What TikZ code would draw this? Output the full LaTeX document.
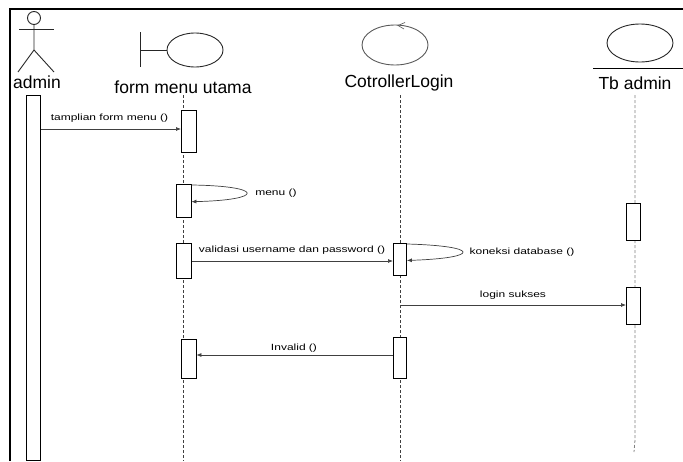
\documentclass[tikz,border=0pt]{standalone}
\usepackage{fontspec}
\setmainfont{Liberation Sans}
\usetikzlibrary{arrows.meta,calc,shapes.geometric}
\newcommand\lbltxt[1]{\scalebox{1}[0.75]{#1}}
\begin{document}
\begin{tikzpicture}[x=1pt,y=-1pt,
  title/.style={font=\fontsize{17.5}{18}\selectfont, inner sep=0pt},
  lbl/.style={font=\fontsize{12}{12}\selectfont, inner sep=0pt, text=black},
  act/.style={draw, fill=white, line width=0.9pt, inner sep=0pt, anchor=north west},
  life/.style={draw=black!75, line width=0.8pt, dash pattern=on 3pt off 2pt},
  msg/.style={-{Latex[length=5pt,width=4pt]}, line width=0.7pt, draw=black!75},
  shp/.style={draw=black!85, line width=0.9pt}]
\useasboundingbox (0,0) rectangle (683,461);
% frame
\draw[line width=1.4pt] (10,461) -- (10,9) -- (683,9);
% actor
\node[shp, circle, minimum size=13pt, inner sep=0pt] (head) at (34,18) {};
\coordinate (hip) at (34,50);
\coordinate (lhand) at (19,29);
\coordinate (rhand) at (54,29);
\coordinate (lfoot) at (18,72);
\coordinate (rfoot) at (54,72);
\draw[shp] (head.south) -- (hip) -- (lfoot);
\draw[shp] (hip) -- (rfoot);
\draw[shp] (lhand) -- (rhand);
\node[title] (tadmin) at (37,82) {admin};
% boundary
\node[shp, ellipse, minimum width=56pt, minimum height=34pt, inner sep=0pt] (bnd) at (195,50) {};
\coordinate (bv1) at (140,32);
\coordinate (bv2) at (140,67);
\coordinate (bh) at (140,50);
\draw[shp] (bv1) -- (bv2);
\draw[shp] (bh) -- (bnd.west);
\node[title] (tform) at (183,87) {form menu utama};
% control
\node[shp, draw=black!65, ellipse, minimum width=66pt, minimum height=40pt, inner sep=0pt] (ctl) at (395,45) {};
\coordinate (ch1) at (405,22.5);
\coordinate (ch2) at (398,25.5);
\coordinate (ch3) at (404,29);
\draw[draw=black!65, line width=0.6pt] (ch1) -- (ch2) -- (ch3);
\node[title] (tctl) at (399,83) {CotrollerLogin};
% entity
\node[shp, ellipse, minimum width=66pt, minimum height=38pt, inner sep=0pt] (ent) at (640,43) {};
\coordinate (el1) at (593,68);
\coordinate (el2) at (683,68);
\draw[line width=1pt] (el1) -- (el2);
\node[title] (ttb) at (635,83) {Tb admin};
% lifelines
\coordinate (lf1) at (183,95); \coordinate (lf2) at (183,461);
\coordinate (lc1) at (400,95); \coordinate (lc2) at (400,461);
\coordinate (lt1) at (635,95); \coordinate (lt2) at (635,440); \coordinate (lt3) at (634,452);
\draw[life] (lf1) -- (lf2);
\draw[life] (lc1) -- (lc2);
\draw[life, draw=black!50] (lt1) -- (lt2) -- (lt3);
% activations
\node[act, minimum width=14pt, minimum height=365pt] (a1) at (26,95) {};
\node[act, minimum width=15pt, minimum height=42pt] (f1) at (181,110) {};
\node[act, minimum width=14.5pt, minimum height=32.5pt] (f2) at (176,184) {};
\node[act, minimum width=15pt, minimum height=35pt] (f3) at (176,243) {};
\node[act, minimum width=14.5pt, minimum height=39pt] (f4) at (181,339) {};
\node[act, minimum width=13pt, minimum height=32pt] (c1) at (393,243) {};
\node[act, minimum width=13pt, minimum height=41pt] (c2) at (393,337) {};
\node[act, minimum width=14pt, minimum height=37pt] (t1) at (626,203) {};
\node[act, minimum width=14pt, minimum height=37pt] (t2) at (626,287) {};
% messages
\draw[msg] (a1.east |- 0,129) -- (f1.west |- 0,129);
\node[lbl] (m1) at (109.5,118) {\lbltxt{tamplian form menu ()}};
\draw[msg] ($(f2.north east)+(0,1)$) .. controls (265,186) and (265,200) .. ($(f2.east)+(0,1)$);
\node[lbl] (m2) at (276,193) {\lbltxt{menu ()}};
\draw[msg] (f3.east |- 0,261) -- (c1.west |- 0,261);
\node[lbl] (m3) at (292,250) {\lbltxt{validasi username dan password ()}};
\draw[msg] ($(c1.north east)+(0,1)$) .. controls (481,246) and (481,258) .. ($(c1.east)+(0,1)$);
\node[lbl] (m4) at (522,252) {\lbltxt{koneksi database ()}};
\draw[msg] (lc1 |- 0,305) -- (t2.west |- 0,305);
\node[lbl] (m5) at (513,295) {\lbltxt{login sukses}};
\draw[msg] (c2.west |- 0,355) -- (f4.east |- 0,355);
\node[lbl] (m6) at (294,348) {\lbltxt{Invalid ()}};
\end{tikzpicture}
\end{document}
